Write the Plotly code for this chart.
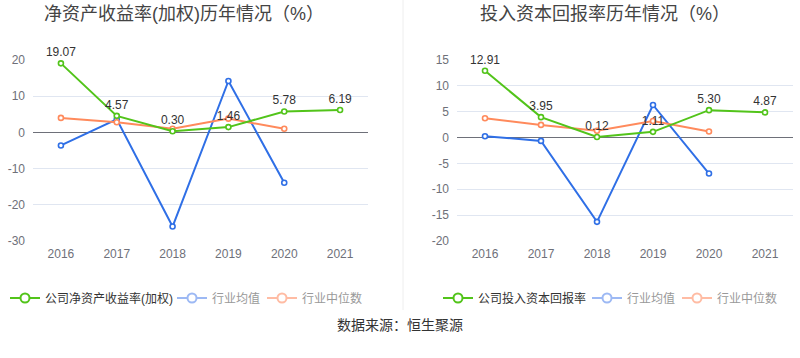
import plotly.graph_objects as go

years = ["2016", "2017", "2018", "2019", "2020", "2021"]

roe_company = [19.07, 4.57, 0.30, 1.46, 5.78, 6.19]
roe_ind_mean = [-3.6, 3.6, -26.0, 14.2, -13.9, None]
roe_ind_median = [4.0, 2.8, 1.0, 3.8, 1.0, None]
roe_ticks = [-30, -20, -10, 0, 10, 20]
roe_ticktext = ["-30", "-20", "-10", "0", "10", "20"]

roic_company = [12.91, 3.95, 0.12, 1.11, 5.30, 4.87]
roic_ind_mean = [0.27, -0.64, -16.3, 6.3, -6.95, None]
roic_ind_median = [3.75, 2.45, 1.3, 3.2, 1.16, None]
roic_ticks = [-20, -15, -10, -5, 0, 5, 10, 15]
roic_ticktext = ["-20", "-15", "-10", "-5", "0", "5", "10", "15"]

GREEN = "#52C41A"
BLUE = "#2F6FE6"
ORANGE = "#FF8A5C"
BLUE_L = "#9DB9F4"
ORANGE_L = "#FFBCA4"
FONT = "Liberation Sans, Noto Sans CJK SC, sans-serif"

fig = go.Figure()


def add_series(xa, ya, leg, comp, mean, med, comp_name, widths):
    fig.add_trace(go.Scatter(
        x=years, y=mean, mode="lines+markers", xaxis=xa, yaxis=ya,
        line=dict(color=BLUE, width=2), cliponaxis=False,
        marker=dict(symbol="circle", size=5, color="white", line=dict(color=BLUE, width=1.6)),
        showlegend=False, hoverinfo="skip"))
    fig.add_trace(go.Scatter(
        x=years, y=med, mode="lines+markers", xaxis=xa, yaxis=ya,
        line=dict(color=ORANGE, width=2), cliponaxis=False,
        marker=dict(symbol="circle", size=5, color="white", line=dict(color=ORANGE, width=1.6)),
        showlegend=False, hoverinfo="skip"))
    fig.add_trace(go.Scatter(
        x=years, y=comp, mode="lines+markers+text", xaxis=xa, yaxis=ya,
        line=dict(color=GREEN, width=2), cliponaxis=False,
        marker=dict(symbol="circle", size=5, color="white", line=dict(color=GREEN, width=1.6)),
        text=[f"{v:.2f}" for v in comp], textposition="top center",
        textfont=dict(size=12, color="#333333", family=FONT),
        showlegend=False, hoverinfo="skip"))
    # legend entries
    for (name, col, tcol), w in zip([(comp_name, GREEN, "#333333"),
                                     ("行业均值", BLUE_L, "#999999"),
                                     ("行业中位数", ORANGE_L, "#999999")], widths):
        fig.add_trace(go.Scatter(
            x=[None], y=[None], mode="lines+markers", xaxis=xa, yaxis=ya,
            name=f"<span style='color:{tcol}'>{name}</span>",
            line=dict(color=col, width=2),
            marker=dict(symbol="circle", size=9, color="white", line=dict(color=col, width=2)),
            legend=leg, legendwidth=w, showlegend=True))


add_series("x", "y", "legend", roe_company, roe_ind_mean, roe_ind_median,
           "公司净资产收益率(加权)", [122, 45, 60])
add_series("x2", "y2", "legend2", roic_company, roic_ind_mean, roic_ind_median,
           "公司投入资本回报率", [104, 45, 60])

ydom = [1 - 241 / 358, 1 - 60 / 358]
axis_common = dict(
    type="category", range=[-0.5, 5.5], showgrid=False, zeroline=False,
    showline=False, ticks="", tickfont=dict(size=12, color="#6E7079", family=FONT),
    ticklabelstandoff=4, fixedrange=True,
)
yaxis_common = dict(
    showgrid=True, gridcolor="#E0E6F1", gridwidth=1, zeroline=True,
    zerolinecolor="#6E7079", zerolinewidth=1, showline=False, ticks="",
    tickfont=dict(size=12, color="#6E7079", family=FONT), ticklabelstandoff=7,
    fixedrange=True, tickmode="array",
)

fig.update_layout(
    width=800, height=358,
    margin=dict(l=0, r=0, t=0, b=0, autoexpand=False),
    paper_bgcolor="white", plot_bgcolor="white",
    font=dict(family=FONT, color="#333333"),
    xaxis=dict(domain=[33 / 800, 368 / 800], anchor="y", **axis_common),
    yaxis=dict(domain=ydom, anchor="x", range=[-30, 20], tickvals=roe_ticks,
               ticktext=roe_ticktext, **yaxis_common),
    xaxis2=dict(domain=[457 / 800, 793 / 800], anchor="y2", **axis_common),
    yaxis2=dict(domain=ydom, anchor="x2", range=[-20, 15], tickvals=roic_ticks,
                ticktext=roic_ticktext, **yaxis_common),
    legend=dict(orientation="h", x=5 / 800, xanchor="left", y=1 - 298 / 358, yanchor="middle",
                font=dict(size=12, family=FONT), itemwidth=30, bgcolor="rgba(0,0,0,0)",
                traceorder="normal"),
    legend2=dict(orientation="h", x=438 / 800, xanchor="left", y=1 - 298 / 358, yanchor="middle",
                 font=dict(size=12, family=FONT), itemwidth=30, bgcolor="rgba(0,0,0,0)",
                 traceorder="normal"),
    showlegend=True,
)

fig.add_annotation(text="净资产收益率(加权)历年情况（%）", xref="paper", yref="paper",
                   x=184 / 800, y=1 - 14 / 358, xanchor="center", yanchor="middle",
                   showarrow=False, font=dict(size=18, color="#444444", family=FONT))
fig.add_annotation(text="投入资本回报率历年情况（%）", xref="paper", yref="paper",
                   x=605 / 800, y=1 - 14 / 358, xanchor="center", yanchor="middle",
                   showarrow=False, font=dict(size=18, color="#444444", family=FONT))
fig.add_annotation(text="数据来源：恒生聚源", xref="paper", yref="paper",
                   x=0.5, y=1 - 325 / 358, xanchor="center", yanchor="middle",
                   showarrow=False, font=dict(size=14, color="#333333", family=FONT))

# divider line
fig.add_shape(type="line", xref="paper", yref="paper", x0=403 / 800, x1=403 / 800,
              y0=1 - 310 / 358, y1=1, line=dict(color="#EEEEEE", width=1))

# ticks on zero line
for xa, ya in [("x", "y"), ("x2", "y2")]:
    for yr in years:
        fig.add_shape(type="line", xref=xa, yref=ya, x0=yr, x1=yr,
                      ysizemode="pixel", yanchor=0, y0=-5, y1=0,
                      line=dict(color="#6E7079", width=1))

fig.write_html("out.html", config={"displayModeBar": False},
               post_script="document.body.style.margin='0';")
